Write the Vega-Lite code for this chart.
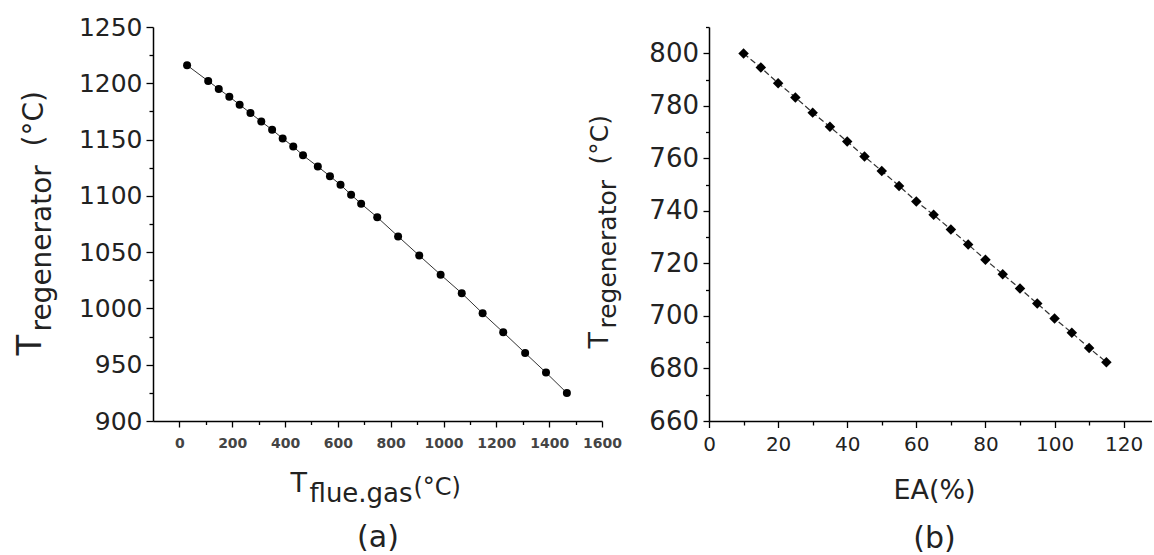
{
  "$schema": "https://vega.github.io/schema/vega-lite/v6.json",
  "padding": {"left": 13, "top": 15, "right": 0, "bottom": 0},
  "bounds": "flush",
  "spacing": 107,
  "config": {
    "view": {"stroke": null},
    "axis": {
      "grid": false,
      "domainColor": "#000",
      "domainWidth": 1.5,
      "tickColor": "#000",
      "tickWidth": 1.3,
      "labelColor": "#222",
      "titleColor": "#222",
      "labelFont": "DejaVu Sans",
      "titleFont": "DejaVu Sans",
      "titleFontWeight": "normal",
      "labelFlush": false,
      "labelOverlap": false,
      "format": "d"
    }
  },
  "datasets": {
    "a": [
      {"T": 29, "R": 1216},
      {"T": 109, "R": 1202},
      {"T": 149, "R": 1195},
      {"T": 189, "R": 1188},
      {"T": 228, "R": 1181},
      {"T": 269, "R": 1173.5},
      {"T": 310, "R": 1166},
      {"T": 351, "R": 1158.7},
      {"T": 391, "R": 1151},
      {"T": 431, "R": 1143.8},
      {"T": 468, "R": 1136},
      {"T": 524, "R": 1126},
      {"T": 570, "R": 1117.5},
      {"T": 610, "R": 1109.8},
      {"T": 650, "R": 1101},
      {"T": 688, "R": 1093},
      {"T": 749, "R": 1081},
      {"T": 828, "R": 1064},
      {"T": 908, "R": 1047},
      {"T": 989, "R": 1030},
      {"T": 1069, "R": 1013.5},
      {"T": 1148, "R": 995.7},
      {"T": 1226, "R": 978.8},
      {"T": 1309, "R": 960.4},
      {"T": 1388, "R": 943},
      {"T": 1467, "R": 924.9}
    ],
    "b": [
      {"EA": 10, "R": 799.9},
      {"EA": 15, "R": 794.6},
      {"EA": 20, "R": 788.6},
      {"EA": 25, "R": 783.2},
      {"EA": 30, "R": 777.4},
      {"EA": 35, "R": 772},
      {"EA": 40, "R": 766.4},
      {"EA": 45, "R": 760.7},
      {"EA": 50, "R": 755.2},
      {"EA": 55, "R": 749.5},
      {"EA": 60, "R": 743.6},
      {"EA": 65, "R": 738.5},
      {"EA": 70, "R": 732.9},
      {"EA": 75, "R": 727.2},
      {"EA": 80, "R": 721.4},
      {"EA": 85, "R": 715.9},
      {"EA": 90, "R": 710.4},
      {"EA": 95, "R": 704.7},
      {"EA": 100, "R": 699},
      {"EA": 105, "R": 693.6},
      {"EA": 110, "R": 687.8},
      {"EA": 115, "R": 682.4}
    ]
  },
  "hconcat": [
    {
      "width": 449,
      "height": 394,
      "data": {"name": "a"},
      "resolve": {"axis": {"x": "independent", "y": "independent"}},
      "layer": [
        {
          "mark": {"type": "line", "color": "#333", "strokeWidth": 1},
          "encoding": {
            "x": {"field": "T", "type": "quantitative",
              "scale": {"domain": [-100, 1600], "nice": false, "zero": false},
              "axis": {"orient": "bottom", "values": [0, 200, 400, 600, 800, 1000, 1200, 1400, 1600], "format": "d",
                "labelFontSize": 14, "labelFontWeight": "bold", "labelColor": "#444", "tickSize": 6, "labelPadding": 9,
                "title": "T", "titleFontSize": 27, "titleX": 137, "titleY": 70, "titleAlign": "left", "titleBaseline": "alphabetic", "titleAngle": 0}},
            "y": {"field": "R", "type": "quantitative",
              "scale": {"domain": [900, 1250], "nice": false, "zero": false},
              "axis": {"orient": "left", "values": [900, 950, 1000, 1050, 1100, 1150, 1200, 1250], "format": "d",
                "labelFontSize": 25, "tickSize": 7, "labelPadding": 4,
                "title": "T", "titleFontSize": 34, "titleAngle": -90, "titleX": -113, "titleY": 328, "titleAlign": "left", "titleBaseline": "alphabetic"}}
          }
        },
        {
          "mark": {"type": "point", "shape": "circle", "filled": true, "color": "#000", "size": 64, "opacity": 1},
          "encoding": {
            "x": {"field": "T", "type": "quantitative",
              "axis": {"orient": "bottom", "values": [100, 300, 500, 700, 900, 1100, 1300, 1500],
                "labels": false, "domain": false, "tickSize": 3.5,
                "title": "flue.gas", "titleFontSize": 26, "titleX": 156, "titleY": 80, "titleAlign": "left", "titleBaseline": "alphabetic", "titleAngle": 0}},
            "y": {"field": "R", "type": "quantitative",
              "axis": {"orient": "left", "values": [925, 975, 1025, 1075, 1125, 1175, 1225],
                "labels": false, "domain": false, "tickSize": 4,
                "title": "regenerator", "titleFontSize": 28, "titleAngle": -90, "titleX": -103, "titleY": 304, "titleAlign": "left", "titleBaseline": "alphabetic"}}
          }
        },
        {
          "mark": {"type": "point", "opacity": 0},
          "encoding": {
            "x": {"field": "T", "type": "quantitative",
              "axis": {"orient": "bottom", "values": [], "labels": false, "domain": false, "ticks": false,
                "title": "(°C)", "titleFontSize": 24, "titleX": 260, "titleY": 73, "titleAlign": "left", "titleBaseline": "alphabetic", "titleAngle": 0}},
            "y": {"field": "R", "type": "quantitative",
              "axis": {"orient": "left", "values": [], "labels": false, "domain": false, "ticks": false,
                "title": "(°C)", "titleFontSize": 28, "titleAngle": -90, "titleX": -111, "titleY": 119, "titleAlign": "left", "titleBaseline": "alphabetic"}}
          }
        },
        {
          "mark": {"type": "point", "opacity": 0},
          "encoding": {
            "x": {"field": "T", "type": "quantitative",
              "axis": {"orient": "bottom", "values": [], "labels": false, "domain": false, "ticks": false,
                "title": "(a)", "titleFontSize": 30, "titleX": 224.5, "titleY": 125, "titleAlign": "center", "titleBaseline": "alphabetic", "titleAngle": 0}},
            "y": {"field": "R", "type": "quantitative", "axis": null}
          }
        }
      ]
    },
    {
      "width": 443,
      "height": 394,
      "data": {"name": "b"},
      "resolve": {"axis": {"x": "independent", "y": "independent"}},
      "layer": [
        {
          "mark": {"type": "line", "color": "#333", "strokeWidth": 1.2, "strokeDash": [6, 3]},
          "encoding": {
            "x": {"field": "EA", "type": "quantitative",
              "scale": {"domain": [0, 128.2], "nice": false, "zero": false},
              "axis": {"orient": "bottom", "values": [0, 20, 40, 60, 80, 100, 120], "format": "d",
                "labelFontSize": 20, "tickSize": 6.5, "labelPadding": 6.5,
                "title": "EA(%)", "titleFontSize": 27, "titleX": 225, "titleY": 77, "titleAlign": "center", "titleBaseline": "alphabetic", "titleAngle": 0}},
            "y": {"field": "R", "type": "quantitative",
              "scale": {"domain": [660, 810], "nice": false, "zero": false},
              "axis": {"orient": "left", "values": [660, 680, 700, 720, 740, 760, 780, 800], "format": "d",
                "labelFontSize": 26, "tickSize": 6, "labelPadding": 4.5,
                "title": "T", "titleFontSize": 27, "titleAngle": -90, "titleX": -102, "titleY": 321, "titleAlign": "left", "titleBaseline": "alphabetic"}}
          }
        },
        {
          "mark": {"type": "point", "shape": "diamond", "filled": true, "color": "#000", "size": 110, "opacity": 1},
          "encoding": {
            "x": {"field": "EA", "type": "quantitative",
              "axis": {"orient": "bottom", "values": [10, 30, 50, 70, 90, 110],
                "labels": false, "domain": false, "tickSize": 4,
                "title": "(b)", "titleFontSize": 30, "titleX": 225, "titleY": 126, "titleAlign": "center", "titleBaseline": "alphabetic", "titleAngle": 0}},
            "y": {"field": "R", "type": "quantitative",
              "axis": {"orient": "left", "values": [670, 690, 710, 730, 750, 770, 790, 810],
                "labels": false, "domain": false, "tickSize": 3.5,
                "title": "regenerator", "titleFontSize": 25, "titleAngle": -90, "titleX": -94, "titleY": 301, "titleAlign": "left", "titleBaseline": "alphabetic"}}
          }
        },
        {
          "mark": {"type": "point", "opacity": 0},
          "encoding": {
            "x": {"field": "EA", "type": "quantitative", "axis": null},
            "y": {"field": "R", "type": "quantitative",
              "axis": {"orient": "left", "values": [], "labels": false, "domain": false, "ticks": false,
                "title": "(°C)", "titleFontSize": 25, "titleAngle": -90, "titleX": -102, "titleY": 137, "titleAlign": "left", "titleBaseline": "alphabetic"}}
          }
        }
      ]
    }
  ]
}
